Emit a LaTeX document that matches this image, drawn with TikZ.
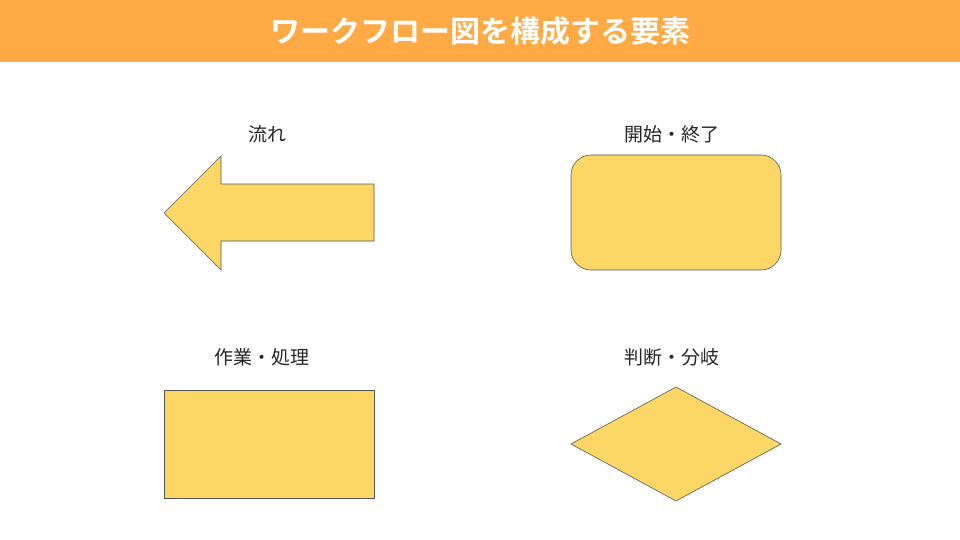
\documentclass[tikz,border=0pt]{standalone}
\usepackage{fontspec}
\newfontfamily\cjk{Noto Sans CJK JP}
\newfontfamily\cjkb{Noto Sans CJK JP Bold}
\definecolor{hdr}{HTML}{FFAA44}
\definecolor{shp}{HTML}{FDD766}
\definecolor{edg}{HTML}{555555}
\begin{document}
\begin{tikzpicture}[x=1pt,y=-1pt,
  shapestyle/.style={fill=shp,draw=edg,line width=0.6pt},
  lbl/.style={font=\cjk\fontsize{19}{22}\selectfont,text=black!85}]
\useasboundingbox (0,0) rectangle (960,540);
\fill[white] (0,0) rectangle (960,540);
\fill[hdr] (0,0) rectangle (960,62);
\node[font=\cjkb\fontsize{30}{34}\selectfont,text=white] (title) at (480,31) {ワークフロー図を構成する要素};
\draw[shapestyle] (164,213) -- (221,156) -- (221,184) -- (374,184) -- (374,241) -- (221,241) -- (221,270) -- cycle;
\node[lbl] (l1) at (267,134) {流れ};
\draw[shapestyle,rounded corners=20pt] (571,155) rectangle (781,270);
\node[lbl] (l2) at (672,134) {開始・終了};
\draw[shapestyle] (164,390) rectangle (374,498);
\node[lbl] (l3) at (262,357) {作業・処理};
\draw[shapestyle] (571,444) -- (676,387) -- (781,444) -- (676,501) -- cycle;
\node[lbl] (l4) at (672,357) {判断・分岐};
\end{tikzpicture}
\end{document}
